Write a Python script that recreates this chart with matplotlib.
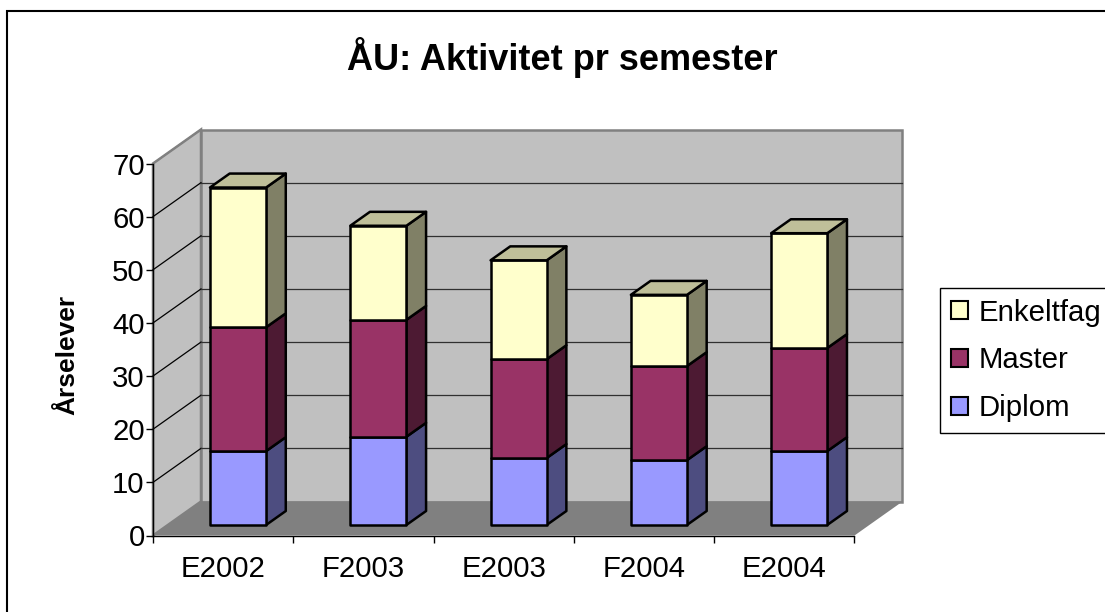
import matplotlib
matplotlib.use("Agg")
import matplotlib.pyplot as plt
from matplotlib.patches import Polygon, Patch, Rectangle

plt.rcParams['font.family'] = ['Liberation Sans', 'DejaVu Sans']

categories = ["E2002", "F2003", "E2003", "F2004", "E2004"]
diplom = [13.9, 16.6, 12.6, 12.2, 13.9]
master = [23.3, 22.0, 18.6, 17.7, 19.4]
enkeltfag = [26.3, 17.7, 18.6, 13.4, 21.6]
series = [("Diplom", diplom, "#9999FF", "#4D4D80", "#7373BF"),
          ("Master", master, "#993366", "#4D1A33", "#732650"),
          ("Enkeltfag", enkeltfag, "#FFFFCC", "#808066", "#BFBF99")]
yticks = [0, 10, 20, 30, 40, 50, 60, 70]

W, H = 1105, 612
fig = plt.figure(figsize=(W / 100, H / 100), dpi=100, facecolor="white")
L, R, B, T = 153.0, 854.5, 535.5, 163.5
ax = fig.add_axes([L / W, 1 - B / H, (R - L) / W, (B - T) / H])
ax.set_xlim(0, len(categories))
ax.set_ylim(0, 70)
ax.patch.set_visible(False)

DX = 48 / ((R - L) / len(categories))
DY = 34 / ((B - T) / 70)
def p(x, y, t):
    return (x + DX * t, y + DY * t)

nc = len(categories)
GR = "#808080"
ax.add_patch(Polygon([p(0, 0, 0), p(0, 70, 0), p(0, 70, 1), p(0, 0, 1)], fc="#C0C0C0", ec=GR, lw=1.8, clip_on=False, zorder=1))
ax.add_patch(Polygon([p(0, 0, 1), p(0, 70, 1), p(nc, 70, 1), p(nc, 0, 1)], fc="#C0C0C0", ec=GR, lw=1.8, clip_on=False, zorder=1))
ax.add_patch(Polygon([p(0, 0, 0), p(nc, 0, 0), p(nc, 0, 1), p(0, 0, 1)], fc="#808080", ec="none", clip_on=False, zorder=1))

for v in yticks[1:]:
    a, b, c = p(0, v, 0), p(0, v, 1), p(nc, v, 1)
    ax.plot([a[0], b[0]], [a[1], b[1]], color="black" if v < 70 else GR, lw=0.9, clip_on=False, zorder=2)
    if v < 70:
        ax.plot([b[0], c[0]], [b[1], c[1]], color="#303030", lw=0.9, clip_on=False, zorder=2)

t0, t1 = 0.31, 0.72
bw = 0.4
for i in range(nc):
    x0, x1 = i + 0.5 - bw / 2, i + 0.5 + bw / 2
    base = 0
    for k, (name, vals, front, side, top) in enumerate(series):
        v = base + vals[i]
        ax.add_patch(Polygon([p(x1, base, t0), p(x1, v, t0), p(x1, v, t1), p(x1, base, t1)],
                             fc=side, ec="black", lw=1.8, joinstyle="round", clip_on=False, zorder=3))
        ax.add_patch(Polygon([p(x0, base, t0), p(x1, base, t0), p(x1, v, t0), p(x0, v, t0)],
                             fc=front, ec="black", lw=1.8, joinstyle="round", clip_on=False, zorder=3))
        if k == len(series) - 1:
            ax.add_patch(Polygon([p(x0, v, t0), p(x1, v, t0), p(x1, v, t1), p(x0, v, t1)],
                                 fc=top, ec="black", lw=1.8, joinstyle="round", clip_on=False, zorder=3))
        base = v

for s in ["top", "right"]:
    ax.spines[s].set_visible(False)
for s in ["left", "bottom"]:
    ax.spines[s].set_linewidth(1.0)
    ax.spines[s].set_zorder(4)
ax.set_yticks(yticks)
ax.set_xticks(range(nc + 1))
ax.set_xticks([i + 0.5 for i in range(nc)], categories, minor=True)
ax.tick_params(axis="x", which="major", labelbottom=False, length=5, width=1)
ax.tick_params(axis="x", which="minor", length=0, labelsize=21.2, pad=14)
ax.tick_params(axis="y", length=5, width=1, labelsize=21.2, pad=1)

fig.text(562 / W, 1 - 57 / H, "ÅU: Aktivitet pr semester", ha="center", va="center",
         fontsize=26, fontweight="bold")
fig.text(67 / W, 1 - 355 / H, "Årselever", ha="center", va="center", rotation=90,
         fontsize=19, fontweight="bold")

handles = [Patch(fc=s[2], ec="black", lw=1.5) for s in reversed(series)]
leg = fig.legend(handles, [s[0] for s in reversed(series)], loc="upper left",
                 bbox_to_anchor=(940 / W, 1 - 288 / H), bbox_transform=fig.transFigure,
                 fancybox=False, framealpha=1, edgecolor="black", fontsize=21.2,
                 handlelength=0.58, handleheight=0.58, handletextpad=0.36,
                 labelspacing=0.67, borderpad=0.36, borderaxespad=0)
leg.get_frame().set_linewidth(1.0)

fig.add_artist(Rectangle((7.0 / W, -0.05), 1.2, 1.05 - 10.5 / H, transform=fig.transFigure,
                         fc="none", ec="black", lw=1.5))
fig.savefig("out.png", dpi=100)
